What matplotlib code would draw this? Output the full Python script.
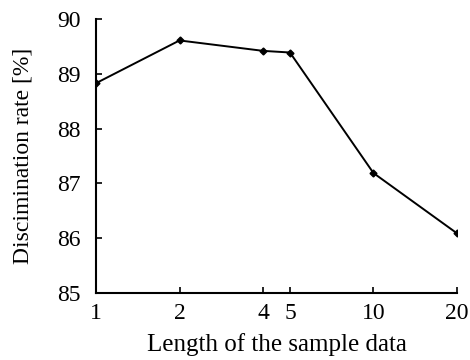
import matplotlib
matplotlib.use("Agg")
import matplotlib.pyplot as plt
from matplotlib.ticker import FixedLocator, FixedFormatter, NullLocator

lengths = [1, 2, 4, 5, 10, 20]
rates = [88.83, 89.61, 89.42, 89.39, 87.19, 86.09]
xtick_labels = ["1", "2", "4", "5", "10", "20"]
yticks = [85, 86, 87, 88, 89, 90]

plt.rcParams['font.family'] = ['Liberation Serif', 'DejaVu Serif']

fig = plt.figure(figsize=(4.7, 3.6), dpi=100)
ax = fig.add_axes([0.2043, 0.186, 0.768, 0.761])
ax.plot(lengths, rates, color='black', lw=1.4, marker='D', ms=3.5)
ax.set_xscale('log')
ax.set_xlim(1, 20)
ax.set_ylim(85, 90)
ax.xaxis.set_major_locator(FixedLocator(lengths))
ax.xaxis.set_major_formatter(FixedFormatter(xtick_labels))
ax.xaxis.set_minor_locator(NullLocator())
ax.set_yticks(yticks)
ax.spines['top'].set_visible(False)
ax.spines['right'].set_visible(False)
for s in ['left', 'bottom']:
    ax.spines[s].set_linewidth(1.5)
ax.tick_params(direction='in', length=4, width=1.2, labelsize=17)
ax.tick_params(axis='y', pad=11)
ax.tick_params(axis='x', pad=7)
ax.set_xlabel('Length of the sample data', fontsize=18, labelpad=7)
ax.set_ylabel('Discimination rate [%]', fontsize=17, labelpad=17)
fig.savefig('out.png', dpi=100)
